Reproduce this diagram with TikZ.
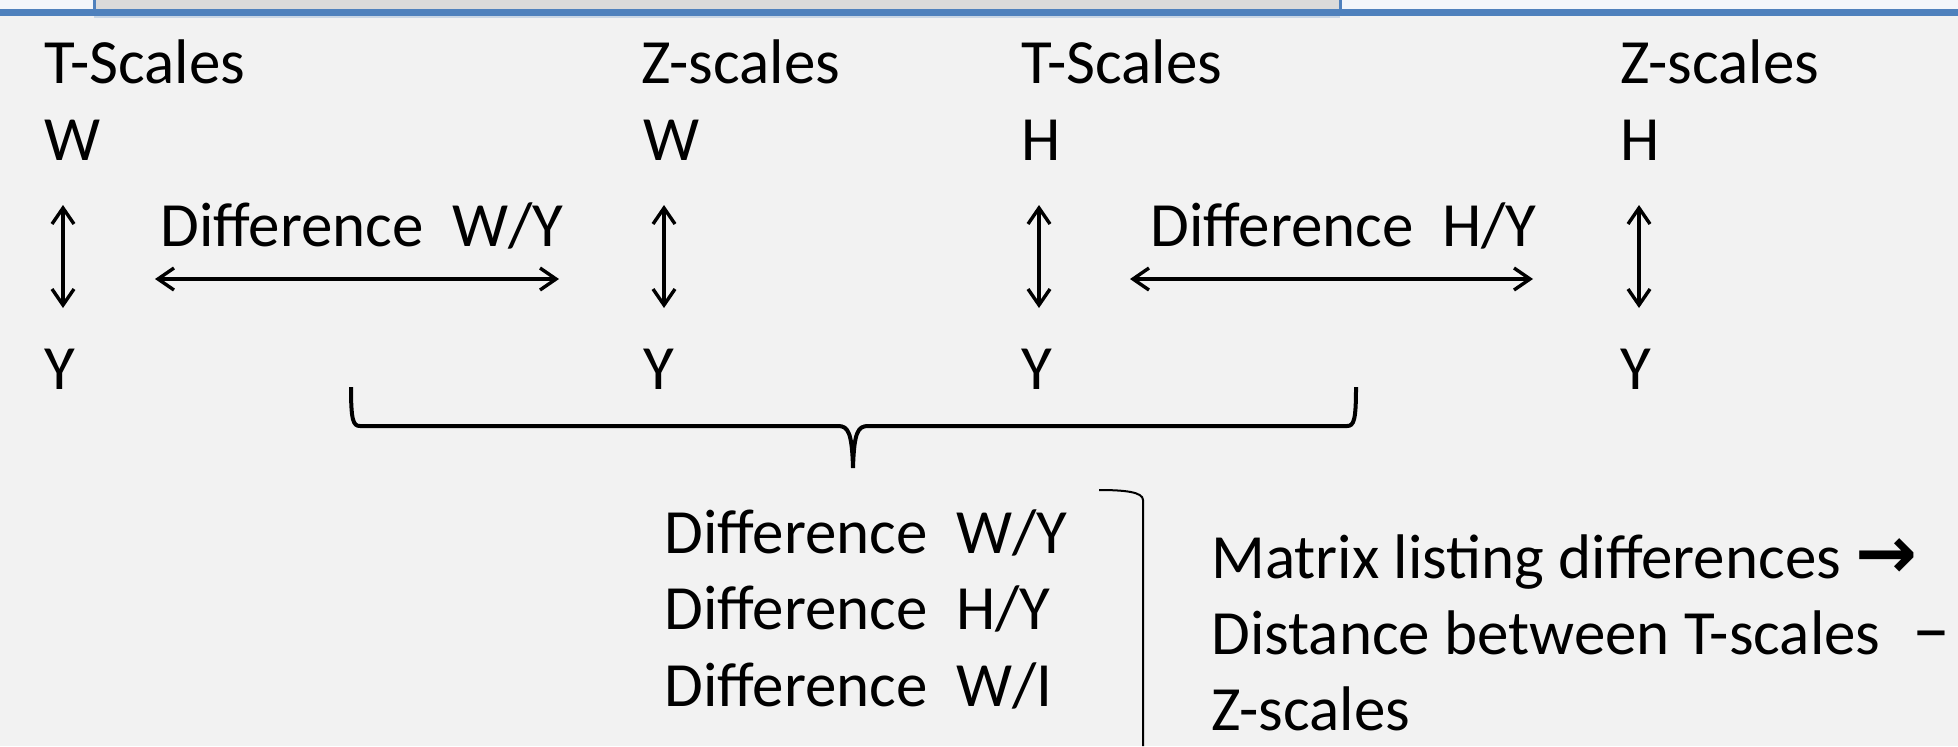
\documentclass[tikz,border=0pt]{standalone}
\usepackage{fontspec}
\setmainfont{Carlito}
\newfontfamily\arrowfont{DejaVu Sans}
\usetikzlibrary{arrows.meta}
\definecolor{bg}{HTML}{F2F2F2}
\definecolor{blueline}{HTML}{4F81BD}
\definecolor{boxgray}{HTML}{DADADA}
\definecolor{topbg}{HTML}{F3F6FA}
\begin{document}
\begin{tikzpicture}[x=0.5pt,y=-0.5pt,
  lbl/.style={anchor=base west, inner sep=0pt, font=\fontsize{31.5}{38}\selectfont},
  dbl/.style={{Straight Barb[length=8pt,width=11pt,line width=1.7pt]}-{Straight Barb[length=8pt,width=11pt,line width=1.7pt]}, line width=1.7pt},
  brace/.style={line width=2pt},
  bracket/.style={line width=1pt}
]
\useasboundingbox (0,0) rectangle (1958,746);
\fill[bg] (0,0) rectangle (1958,746);
\fill[topbg] (0,0) rectangle (1958,12);
\fill[boxgray] (94,0) rectangle (1340,12);
\fill[blueline!25!bg] (94,16) rectangle (1340,18);
\draw[blueline, line width=1.5pt] (94,0) -- (94,14) (1340,0) -- (1340,14);
\fill[blueline] (0,9) rectangle (1958,16);

% column 1
\node[lbl] (t1) at (44,83) {T-Scales};
\node[lbl] (w1) at (44,160) {W};
\node[lbl] (y1) at (44,389) {Y};
\coordinate (a1t) at (63,205);
\coordinate (a1b) at (63,308);
\draw[dbl] (a1t) -- (a1b);

% difference W/Y
\node[lbl] (d1) at (160,246) {Difference\ \ W/Y};
\coordinate (h1l) at (155,279);
\coordinate (h1r) at (559,279);
\draw[dbl] (h1l) -- (h1r);

% column 2
\node[lbl] (t2) at (641,83) {Z-scales};
\node[lbl] (w2) at (643,160) {W};
\node[lbl] (y2) at (643,389) {Y};
\coordinate (a2t) at (664,205);
\coordinate (a2b) at (664,308);
\draw[dbl] (a2t) -- (a2b);

% column 3
\node[lbl] (t3) at (1021,83) {T-Scales};
\node[lbl] (w3) at (1021,160) {H};
\node[lbl] (y3) at (1021,389) {Y};
\coordinate (a3t) at (1039,205);
\coordinate (a3b) at (1039,308);
\draw[dbl] (a3t) -- (a3b);

% difference H/Y
\node[lbl] (d2) at (1150,246) {Difference\ \ H/Y};
\coordinate (h2l) at (1130,279);
\coordinate (h2r) at (1533,279);
\draw[dbl] (h2l) -- (h2r);

% column 4
\node[lbl] (t4) at (1620,83) {Z-scales};
\node[lbl] (w4) at (1620,160) {H};
\node[lbl] (y4) at (1620,389) {Y};
\coordinate (a4t) at (1639,205);
\coordinate (a4b) at (1639,308);
\draw[dbl] (a4t) -- (a4b);

% brace
\coordinate (bl) at (351,387);
\coordinate (br) at (1356,387);
\coordinate (btip) at (853,468);
\draw[brace] (bl) .. controls (351,420) and (353,426) .. (360,426) -- (838,426)
  .. controls (848,426) and (852,432) .. (btip)
  .. controls (854,432) and (858,426) .. (868,426) -- (1347,426)
  .. controls (1354,426) and (1356,420) .. (br);

% list
\node[lbl] (l1) at (664,553) {Difference\ \ W/Y};
\node[lbl] (l2) at (664,629) {Difference\ \ H/Y};
\node[lbl] (l3) at (664,706) {Difference\ \ W/I};

% right bracket
\coordinate (rb1) at (1099,490);
\coordinate (rb2) at (1143,746);
\draw[bracket] (rb1) .. controls (1125,490) and (1143,492) .. (1143,500) -- (rb2);

% right text
\node[lbl] (m1) at (1211,578) {Matrix listing differences {\arrowfont\bfseries\fontsize{37}{38}\selectfont →}};
\node[lbl] (m2) at (1211,654) {Distance between T-scales\hspace{16pt}{\fontsize{38}{38}\selectfont –}};
\node[lbl] (m3) at (1211,730) {Z-scales};
\end{tikzpicture}
\end{document}
